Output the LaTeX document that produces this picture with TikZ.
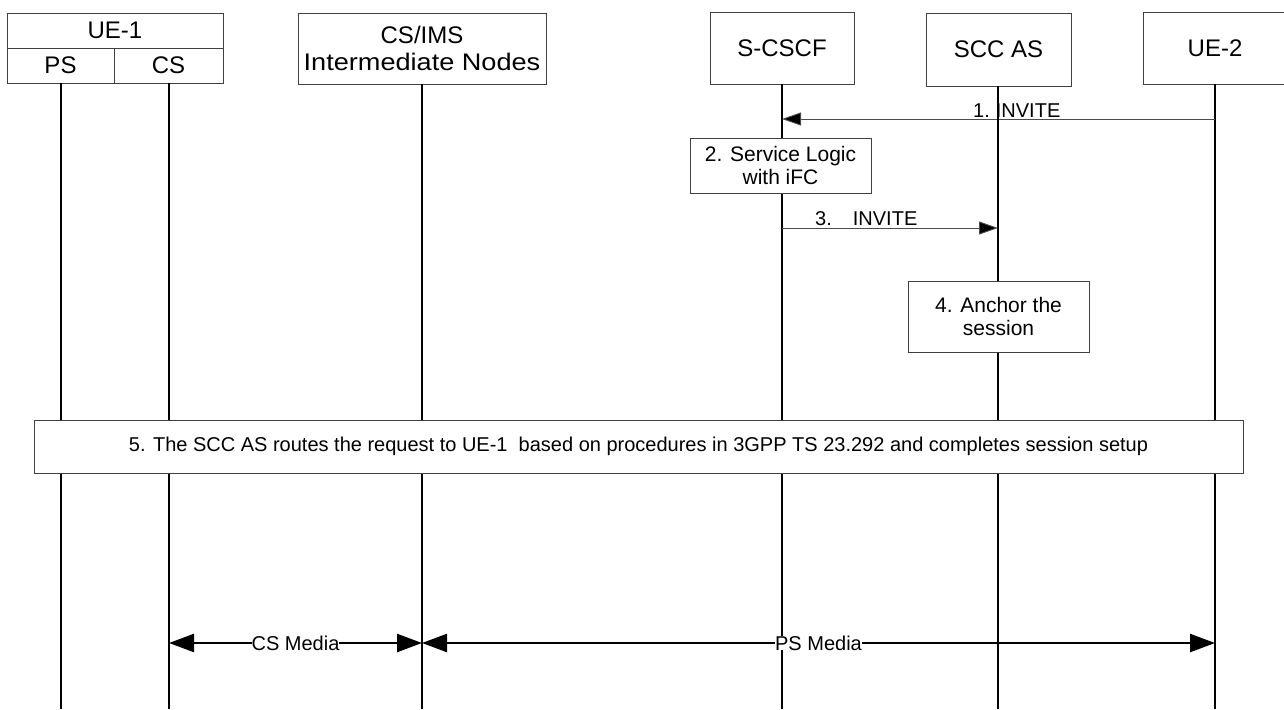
\documentclass[tikz,border=0pt]{standalone}
\usepackage{fontspec}
\setmainfont{Liberation Sans}
\usetikzlibrary{arrows.meta}
\begin{document}
\begin{tikzpicture}[x=1pt,y=-1pt,
  hdr/.style={draw=black!75,line width=0.9pt,fill=white,inner sep=0pt,font=\fontsize{24}{27}\selectfont,align=center},
  stepbox/.style={draw=black!75,line width=0.9pt,fill=white,inner sep=0pt,font=\fontsize{21}{23}\selectfont,align=center},
  life/.style={line width=1.2pt,black},
  msg/.style={line width=0.9pt,black!70,-{Triangle[length=19pt,width=13pt,fill=black]}},
  media/.style={line width=2.4pt,black,{Triangle[length=25pt,width=18pt]}-{Triangle[length=25pt,width=18pt]}},
  lbl/.style={font=\fontsize{20}{22}\selectfont,inner sep=0pt},
  medialbl/.style={font=\fontsize{20}{22}\selectfont,inner sep=0pt,fill=white}
]
\useasboundingbox (0,0) rectangle (1284,709);
% bottom ends of lifelines
\coordinate (psb) at (61,709);
\coordinate (csb) at (169,709);
\coordinate (imsb) at (422,709);
\coordinate (scb) at (782,709);
\coordinate (asb) at (998,709);
\coordinate (ue2b) at (1215,709);
% header nodes
\node[hdr,minimum width=216pt,minimum height=35pt] (ue1) at (115,30.5) {UE-1};
\node[hdr,minimum width=107pt,minimum height=35pt] (ps) at (60.5,65.5) {PS};
\node[hdr,minimum width=109pt,minimum height=35pt] (cs) at (168.5,65.5) {CS};
\node[hdr,minimum width=248pt,minimum height=71pt] (ims) at (422,48.5) {CS/IMS\\\scalebox{1.13}[1]{Intermediate Nodes}};
\node[hdr,minimum width=144pt,minimum height=72pt] (scscf) at (782,48) {S-CSCF};
\node[hdr,minimum width=145pt,minimum height=73pt] (sccas) at (998.5,49.5) {SCC AS};
\node[hdr,minimum width=144pt,minimum height=72pt] (ue2) at (1215,48) {UE-2};
% lifelines
\draw[life] (ps.south -| psb) -- (psb);
\draw[life] (cs.south -| csb) -- (csb);
\draw[life] (ims.south) -- (imsb);
\draw[life] (scscf.south) -- (scb);
\draw[life] (ue2.south) -- (ue2b);
% message points
\coordinate (m1s) at (1215,119);
\coordinate (m1e) at (782,119);
\coordinate (m3s) at (782,228);
\coordinate (m3e) at (998,228);
\draw[msg] (m1s) -- (m1e);
\node[lbl,anchor=base west] (l1) at (973,117) {1.\hspace{6pt}INVITE};
\draw[life] (sccas.south -| asb) -- (asb);
\draw[msg] (m3s) -- (m3e);
\node[lbl,anchor=base west] (l3) at (815,225) {3.\hspace{21pt}INVITE};
% step boxes
\node[stepbox,minimum width=181pt,minimum height=55pt] (s2) at (780.5,165.5) {2. Service Logic\\with iFC};
\node[stepbox,minimum width=181pt,minimum height=71pt] (s4) at (998.5,316.5) {4. Anchor the\\session};
\node[stepbox,minimum width=1209pt,minimum height=53pt,font=\fontsize{20}{22}\selectfont] (s5) at (638.5,446.5) {5. The SCC AS routes the request to UE-1\ \ based on procedures in 3GPP TS 23.292 and completes session setup};
% media
\coordinate (cm1) at (169,643);
\coordinate (cm2) at (422,643);
\coordinate (pm2) at (1215,643);
\draw[media] (cm1) -- node[medialbl] (cml) {CS Media} (cm2);
\draw[media] (cm2) -- node[medialbl] (pml) {PS Media} (pm2);
\end{tikzpicture}
\end{document}
